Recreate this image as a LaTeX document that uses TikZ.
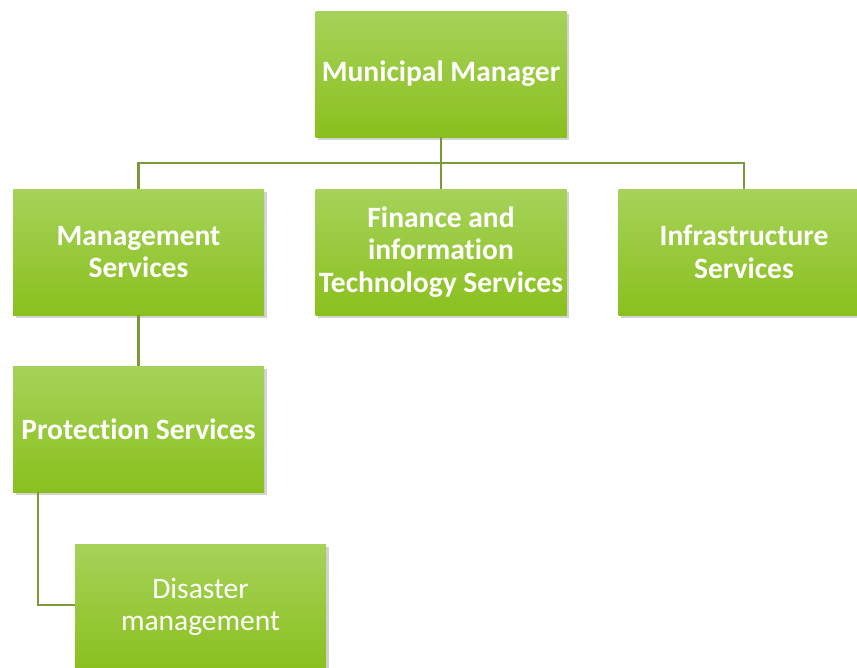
\documentclass[tikz,border=0pt]{standalone}
\usepackage{fontspec}
\setmainfont[Ligatures={NoCommon}]{Carlito}
\usetikzlibrary{shadows}
\definecolor{gtop}{RGB}{166,210,90}
\definecolor{gbot}{RGB}{138,192,30}
\definecolor{conn}{RGB}{122,154,58}
\tikzset{
  box/.style={rectangle, minimum width=251pt, minimum height=126pt, inner sep=0pt,
    top color=gtop, bottom color=gbot, draw=none, text=white, align=center,
    font=\fontsize{29.5}{32.5}\selectfont\bfseries,
    drop shadow={opacity=0.35, shadow xshift=2.5pt, shadow yshift=-2.5pt}},
  lightbox/.style={box, font=\fontsize{29.5}{32.5}\selectfont},
  link/.style={draw=conn, line width=2.6pt}
}
\begin{document}
\begin{tikzpicture}[x=1pt,y=-1pt]
\path[use as bounding box] (0,0) rectangle (857,667);
\begin{scope}
\clip (0,0) rectangle (857,667);
\node[box] (mm) at (441,74) {Municipal Manager};
\node[box] (ms) at (138.5,252) {Management\\Services};
\node[box] (fi) at (441,252) {Finance and\\information\\Technology Services};
\node[box] (is) at (744,252) {Infrastructure\\Services};
\node[box] (ps) at (138.5,429) {Protection Services};
\node[lightbox] (dm) at (200.5,607) {Disaster\\management};
\coordinate (bus) at (441,163);
\coordinate (pd) at (38,605);
\draw[link] (mm.south) -- (bus);
\draw[link] (ms.north) |- (bus) -| (is.north);
\draw[link] (bus) -- (fi.north);
\draw[link] (ms.south) -- (ps.north);
\draw[link] (ps.south -| pd) -- (pd) -- (dm.west |- pd);
\end{scope}
\end{tikzpicture}
\end{document}
